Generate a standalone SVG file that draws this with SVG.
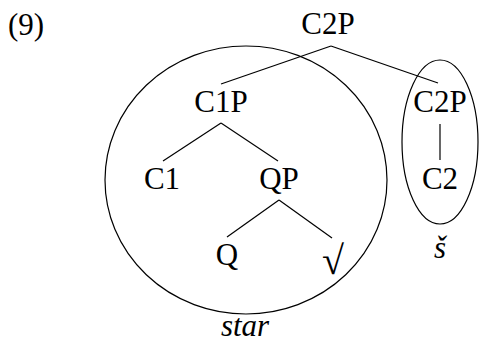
<svg xmlns="http://www.w3.org/2000/svg" width="479" height="345" viewBox="0 0 479 345" font-family="Liberation Serif, DejaVu Serif, serif">
<style>
text{font-size:31px;fill:#000;text-anchor:middle}
.it{font-style:italic}
.e{fill:none;stroke:#000;stroke-width:1.2}
#connectors line{stroke:#000;stroke-width:1.2}
</style>
<rect width="479" height="345" fill="#fff"/>
<text x="8" y="35" style="text-anchor:start" font-family="Liberation Serif, serif">(9)</text>
<g id="domain-star"><ellipse class="e" cx="246" cy="180" rx="141" ry="134"/><text class="it" x="245" y="336" font-family="Liberation Serif, serif">star</text></g>
<g id="domain-s"><ellipse class="e" cx="440" cy="142" rx="38" ry="82"/><text class="it" x="440" y="258" font-family="Liberation Serif, serif">š</text></g>
<g id="connectors">
<line x1="331" y1="46" x2="221" y2="84"/>
<line x1="331" y1="46" x2="438" y2="83"/>
<line x1="440" y1="124" x2="440" y2="160"/>
<line x1="221" y1="123" x2="163" y2="161"/>
<line x1="221" y1="123" x2="278" y2="161"/>
<line x1="279" y1="200" x2="227" y2="237"/>
<line x1="279" y1="200" x2="332" y2="238"/>
</g>
<g id="C2P-top"><text x="328" y="34" font-family="Liberation Serif, serif">C2P</text></g>
<g id="C1P"><text x="221" y="112" font-family="Liberation Serif, serif">C1P</text></g>
<g id="C2P"><text x="440" y="112" font-family="Liberation Serif, serif">C2P</text></g>
<g id="C1"><text x="162" y="189" font-family="Liberation Serif, serif">C1</text></g>
<g id="QP"><text x="279" y="189" font-family="Liberation Serif, serif">QP</text></g>
<g id="C2"><text x="440" y="189" font-family="Liberation Serif, serif">C2</text></g>
<g id="Q"><text x="227" y="265" font-family="Liberation Serif, serif">Q</text></g>
<g id="root"><text x="333" y="274" style="font-size:40px" font-family="Liberation Serif, serif">√</text></g>
</svg>
